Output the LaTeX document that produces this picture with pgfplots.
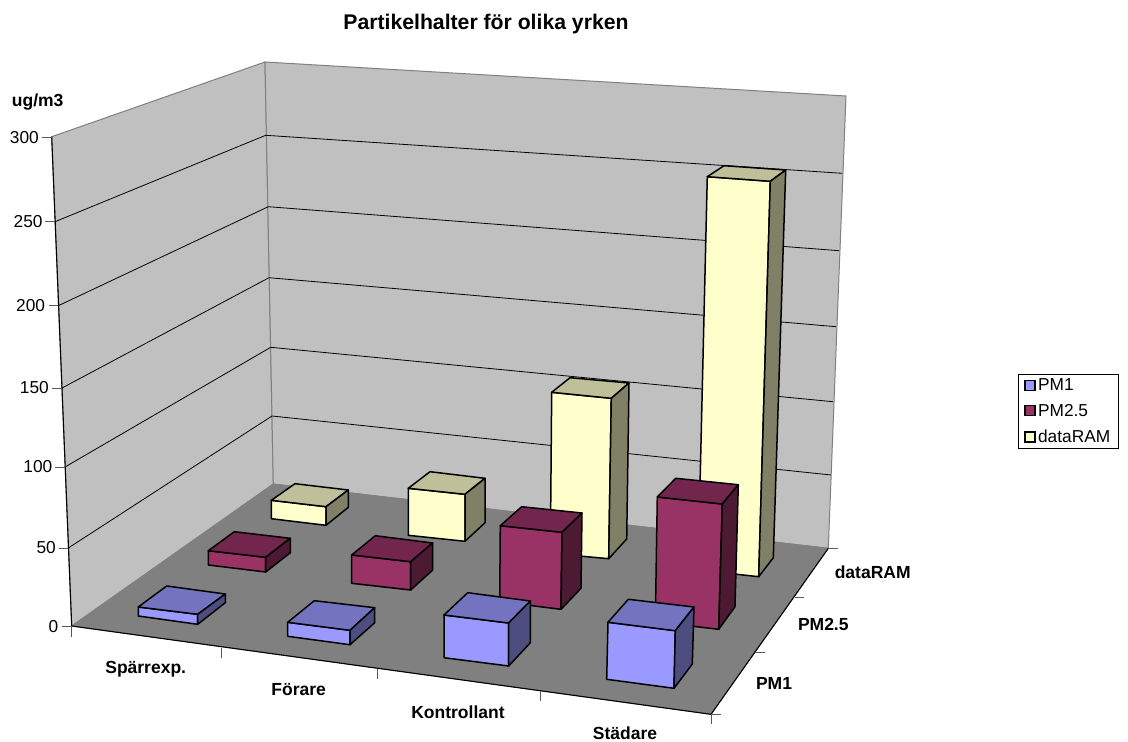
\documentclass[border=0pt]{standalone}
\usepackage{pgfplots}
\pgfplotsset{compat=1.18}
\usepackage{fontspec}
\setmainfont{Liberation Sans}
\definecolor{wall}{HTML}{C0C0C0}
\definecolor{floorc}{HTML}{808080}
\definecolor{pmaF}{HTML}{9999FF}\definecolor{pmaT}{HTML}{7373BF}\definecolor{pmaS}{HTML}{4D4D80}
\definecolor{pmbF}{HTML}{993366}\definecolor{pmbT}{HTML}{73264D}\definecolor{pmbS}{HTML}{4D1A33}
\definecolor{pmcF}{HTML}{FFFFCC}\definecolor{pmcT}{HTML}{BFBF99}\definecolor{pmcS}{HTML}{808066}
\newcommand{\lab}{\fontsize{17.3}{20}\selectfont}
\newcommand{\blab}{\fontsize{17.5}{20}\selectfont\bfseries}
% One column: colour prefix, front corners TL TR BR BL, top rear corners L R, side lower rear corner
\newcommand{\barbox}[8]{%
  \addplot[fill=#1F,draw=black,line width=1.5pt,line join=round] coordinates {#2 #3 #4 #5} -- cycle;
  \addplot[fill=#1T,draw=black,line width=1.5pt,line join=round] coordinates {#2 #6 #7 #3} -- cycle;
  \addplot[fill=#1S,draw=black,line width=1.5pt,line join=round] coordinates {#3 #7 #8 #4} -- cycle;
}
\newcommand{\seg}[3]{\addplot[#1] coordinates {#2 #3};}
\begin{document}
\begin{tikzpicture}
\useasboundingbox (0,0) rectangle (1128pt,742pt);
\begin{axis}[
  at={(0,0)}, anchor=south west,
  scale only axis, width=1128pt, height=742pt,
  xmin=0, xmax=1128, ymin=0, ymax=742, y dir=reverse,
  hide axis, clip=false,
  every axis plot/.append style={forget plot, mark=none},
  legend style={at={(axis cs:1018,373.5)}, anchor=north west, draw=black, line width=0.8pt,
    font=\lab, inner xsep=6pt, inner ysep=3.5pt, row sep=10.3pt,
    /tikz/every even column/.append style={column sep=0pt},
    nodes={inner xsep=2.5pt, inner ysep=1pt}},
  legend cell align=left,
  legend image code/.code={\draw[#1,line width=1.2pt] (0pt,-5pt) rectangle (10pt,5pt);},
]
% walls and floor
\addplot[fill=wall,draw=floorc,line width=1pt] coordinates {(51.7,136.7) (265,62) (273.3,484) (71.7,626)} -- cycle;
\addplot[fill=wall,draw=floorc,line width=1pt] coordinates {(265,62) (846,96) (828.3,548.3) (273.3,484)} -- cycle;
\addplot[fill=floorc,draw=floorc,line width=0.8pt] coordinates {(71.7,626) (273.3,484) (828.3,548.3) (711,714.3)} -- cycle;

% gridlines on the side and rear walls
\pgfplotsset{grid seg/.style={black,line width=0.8pt}}
\addplot[grid seg] coordinates {(55,221.7) (265.7,135.3) (842.3,173.3)};
\addplot[grid seg] coordinates {(58.3,305.7) (268.3,206.7) (839,250.7)};
\addplot[grid seg] coordinates {(62,388) (269,277.7) (836,326.7)};
\addplot[grid seg] coordinates {(65,467) (270.7,347.3) (833,401.7)};
\addplot[grid seg] coordinates {(68.3,548) (272,416) (831,475)};

% dataRAM row
\barbox{pmc}{(271.3,500.3)}{(326,506.7)}{(326,525.3)}{(271.3,518.7)}{(295,483.7)}{(348.3,490)}{(348.3,507.3)}
\barbox{pmc}{(408.3,488.3)}{(465,494.3)}{(465,541.3)}{(408.3,535.3)}{(430,471.7)}{(485,478.3)}{(485,522.7)}
\barbox{pmc}{(551.7,392.3)}{(611.3,398.3)}{(608.7,558.7)}{(550.3,553.3)}{(570,377.7)}{(629,383)}{(626.7,539)}
\barbox{pmc}{(707.3,176.7)}{(770.3,181.3)}{(758.7,576.7)}{(698,570)}{(724,165.7)}{(785.7,170)}{(773.3,557.7)}
% PM2.5 row
\barbox{pmb}{(208.3,550.7)}{(265.7,557.3)}{(265.7,572)}{(208.3,565)}{(234.3,531.7)}{(290.3,538.3)}{(290.3,552.7)}
\barbox{pmb}{(351.7,555)}{(410.7,561.7)}{(410.7,590)}{(351.7,583.3)}{(375.3,535.7)}{(432.7,543)}{(432.7,570)}
\barbox{pmb}{(500.3,525.7)}{(562,532.3)}{(561,609.3)}{(499.7,601.7)}{(521.7,506.7)}{(582,513)}{(581,588.3)}
\barbox{pmb}{(657.3,497)}{(722.3,504)}{(718.7,629.3)}{(655.3,621.7)}{(675.7,478.3)}{(738.3,484.7)}{(735,606.7)}
% PM1 row
\barbox{pma}{(138.3,607)}{(197.7,614.3)}{(197.7,624.3)}{(138.3,616)}{(166.7,586)}{(225.3,594)}{(225.3,602.7)}
\barbox{pma}{(287.7,622.3)}{(350,630.3)}{(350,644.7)}{(287.7,636.3)}{(314.3,600.7)}{(374.7,607.7)}{(374.7,622.7)}
\barbox{pma}{(444,615)}{(508.7,623)}{(508.7,666)}{(444,657.7)}{(467.7,592.7)}{(530.3,601)}{(530.3,642.7)}
\barbox{pma}{(608,622.3)}{(675.3,630.7)}{(674,688.3)}{(606.7,679.3)}{(628.3,599.3)}{(694,607)}{(692.3,664)}

% axis edges
\seg{black,line width=1.1pt}{(51.7,136.7)}{(71.7,626)}
\seg{black,line width=1.1pt}{(71.7,626)}{(711,714.3)}
\seg{black,line width=1.1pt}{(711,714.3)}{(828.3,548.3)}

% tick marks
\pgfplotsset{tick seg/.style={black!65,line width=0.9pt}}
\seg{tick seg}{(42,137)}{(51.7,137)}
\seg{tick seg}{(45,221.7)}{(55,221.7)}
\seg{tick seg}{(48.5,305.7)}{(58.3,305.7)}
\seg{tick seg}{(52,388)}{(62,388)}
\seg{tick seg}{(55,467)}{(65,467)}
\seg{tick seg}{(59,548)}{(68.3,548)}
\seg{tick seg}{(62,626)}{(71.7,626)}
\seg{tick seg}{(71.7,626)}{(71.7,636.5)}
\seg{tick seg}{(221.7,647.5)}{(221.7,657.7)}
\seg{tick seg}{(377.7,669)}{(377.7,679)}
\seg{tick seg}{(540.7,691)}{(540.7,701)}
\seg{tick seg}{(711,714.3)}{(711,724.3)}
\seg{tick seg}{(711,714.3)}{(721,714.3)}
\seg{tick seg}{(755,652.7)}{(765,652.7)}
\seg{tick seg}{(795,597.3)}{(804,597.3)}
\seg{tick seg}{(828.3,548.3)}{(838,548.3)}

% legend entries
\addlegendimage{fill=pmaF,draw=black}\addlegendentry{PM1}
\addlegendimage{fill=pmbF,draw=black}\addlegendentry{PM2.5}
\addlegendimage{fill=pmcF,draw=black}\addlegendentry{dataRAM}

% text
\node[font=\fontsize{21.2}{24}\selectfont\bfseries,inner sep=0pt] at (axis cs:486,24) {Partikelhalter för olika yrken};
\node[font=\blab,inner sep=0pt] at (axis cs:37.7,102) {ug/m3};
\node[font=\lab,anchor=east,inner sep=0pt] at (axis cs:39,137.5) {300};
\node[font=\lab,anchor=east,inner sep=0pt] at (axis cs:42.7,222) {250};
\node[font=\lab,anchor=east,inner sep=0pt] at (axis cs:45.3,305.5) {200};
\node[font=\lab,anchor=east,inner sep=0pt] at (axis cs:49,388) {150};
\node[font=\lab,anchor=east,inner sep=0pt] at (axis cs:52.5,467) {100};
\node[font=\lab,anchor=east,inner sep=0pt] at (axis cs:56,547.5) {50};
\node[font=\lab,anchor=east,inner sep=0pt] at (axis cs:58.5,626.5) {0};
\node[font=\blab,inner sep=0pt] at (axis cs:145.7,669) {Spärrexp.};
\node[font=\blab,inner sep=0pt] at (axis cs:298.7,690) {Förare};
\node[font=\blab,inner sep=0pt] at (axis cs:458,712) {Kontrollant};
\node[font=\blab,inner sep=0pt] at (axis cs:625,733.5) {Städare};
\node[font=\blab,inner sep=0pt] at (axis cs:872.7,572.3) {dataRAM};
\node[font=\blab,inner sep=0pt] at (axis cs:823.3,624) {PM2.5};
\node[font=\blab,inner sep=0pt] at (axis cs:774,683) {PM1};
\end{axis}
\end{tikzpicture}
\end{document}
